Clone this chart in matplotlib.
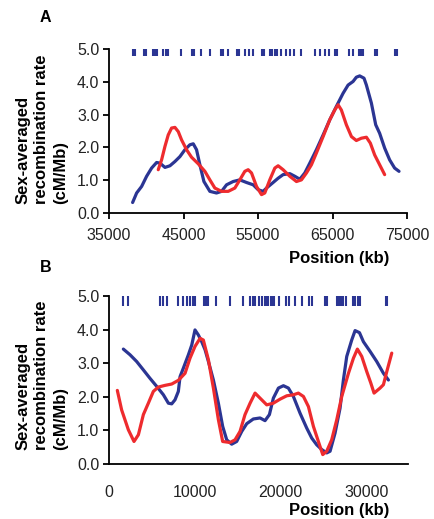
import numpy as np
import matplotlib
matplotlib.use("Agg")
import matplotlib.pyplot as plt

plt.rcParams['font.family'] = ['Liberation Sans', 'DejaVu Sans']

BLUE = "#2b3593"
RED = "#ee2b2e"

# ---------------- panel A ----------------
a_blue_x = [38170, 38710, 39380, 40050, 40720, 41390, 41840, 42510, 43180, 43850,
            44520, 45190, 45860, 46310, 46750, 47200, 47740, 48540, 49430, 50110,
            50780, 51670, 52560, 53460, 54350, 55020, 55690, 56140, 57030, 57700,
            58370, 59270, 59940, 60610, 61280, 61950, 62840, 63740, 64630, 65520,
            66420, 67090, 67760, 68200, 68650, 69230, 69550, 70220, 70800, 71330,
            72000, 72670, 73340, 73930]
a_blue_y = [0.32, 0.61, 0.81, 1.12, 1.37, 1.54, 1.52, 1.39, 1.44, 1.57,
            1.72, 1.93, 2.08, 2.11, 1.93, 1.47, 0.96, 0.66, 0.61, 0.66,
            0.86, 0.96, 1.01, 0.93, 0.86, 0.71, 0.66, 0.76, 0.93, 1.06,
            1.17, 1.20, 1.12, 1.03, 1.22, 1.52, 1.93, 2.38, 2.84, 3.25,
            3.65, 3.90, 4.01, 4.14, 4.18, 4.11, 3.90, 3.35, 2.69, 2.43,
            1.98, 1.62, 1.37, 1.27]

a_red_x = [41610, 42060, 42510, 42950, 43400, 43850, 44300, 44740, 45410, 46080,
           46980, 47870, 48540, 49210, 50110, 51000, 51890, 52560, 53230, 53680,
           54130, 54800, 55470, 55910, 56580, 57260, 57700, 58370, 59270, 60160,
           60830, 61500, 62170, 62840, 63740, 64630, 65300, 65750, 66190, 66860,
           67540, 68200, 68870, 69550, 70080, 70660, 71330, 72000]
a_red_y = [1.32, 1.62, 2.03, 2.38, 2.59, 2.61, 2.48, 2.23, 1.93, 1.70,
           1.50, 1.27, 1.01, 0.76, 0.66, 0.66, 0.76, 1.01, 1.27, 1.32,
           1.22, 0.81, 0.56, 0.61, 1.01, 1.37, 1.44, 1.32, 1.12, 0.96,
           1.01, 1.22, 1.47, 1.83, 2.33, 2.84, 3.14, 3.30, 3.14, 2.69,
           2.33, 2.21, 2.28, 2.31, 2.13, 1.77, 1.47, 1.17]

a_markers = [38260, 38440, 39690, 39960, 40850, 41170, 41480, 42280, 42600, 42950,
             44650, 46080, 46400, 47290, 48540, 50060, 50330, 50910, 52210, 52470,
             53230, 53810, 54350, 55470, 55830, 56670, 56940, 57260, 57570, 58150,
             58730, 59270, 59800, 60830, 62710, 63290, 63960, 64540, 65300, 65610,
             67220, 67760, 68520, 68870, 69100, 70750, 71020, 73430, 73700]

# ---------------- panel B ----------------
b_blue_x = [1670, 2450, 3220, 4000, 4770, 5550, 6330, 6910, 7300, 7680,
            8070, 8270, 8650, 9240, 9630, 10010, 10400, 10790, 11180, 11570,
            12150, 12730, 13230, 13700, 14280, 14860, 15450, 16030, 16800, 17580,
            18160, 18670, 19130, 19720, 20300, 20880, 21460, 22240, 23010, 23600,
            24180, 24760, 25340, 25730, 26310, 26890, 27280, 27670, 28250, 28640,
            29150, 29610, 30390, 31160, 31940, 32520]
b_blue_y = [3.42, 3.25, 3.05, 2.80, 2.55, 2.31, 2.06, 1.81, 1.79, 1.91,
            2.16, 2.60, 2.85, 3.25, 3.54, 3.99, 3.84, 3.64, 3.40, 3.05,
            2.50, 1.81, 1.12, 0.72, 0.59, 0.67, 0.97, 1.20, 1.34, 1.37,
            1.29, 1.47, 1.96, 2.26, 2.33, 2.26, 2.01, 1.51, 1.07, 0.77,
            0.57, 0.43, 0.33, 0.38, 0.92, 1.66, 2.50, 3.20, 3.69, 3.97,
            3.91, 3.64, 3.35, 3.05, 2.70, 2.50]

b_red_x = [970, 1470, 2250, 2910, 3420, 4000, 4580, 5160, 5740, 6520,
           7300, 8070, 8850, 9430, 10010, 10600, 10980, 11570, 12150, 12730,
           13230, 14090, 14670, 15250, 15830, 16420, 17000, 17580, 18360, 19130,
           19910, 20690, 21460, 22040, 22630, 23210, 23790, 24370, 24880, 25340,
           25920, 26510, 27090, 27870, 28450, 28910, 29420, 30000, 30470, 30850,
           31550, 31940, 32330, 32910]
b_red_y = [2.19, 1.61, 1.02, 0.67, 0.87, 1.47, 1.81, 2.16, 2.29, 2.34,
           2.38, 2.49, 2.70, 3.15, 3.50, 3.74, 3.69, 3.10, 2.26, 1.32,
           0.67, 0.64, 0.72, 0.97, 1.47, 1.81, 2.11, 1.96, 1.76, 1.81,
           1.93, 2.03, 2.06, 2.11, 2.01, 1.71, 1.12, 0.67, 0.28, 0.38,
           0.72, 1.32, 2.01, 2.70, 3.15, 3.42, 3.20, 2.75, 2.41, 2.11,
           2.26, 2.36, 2.75, 3.30]

b_markers = [1670, 2250, 5940, 6330, 6710, 8070, 8580, 9040, 9430, 9820,
             10010, 11060, 11290, 11570, 12460, 14090, 15560, 16420, 16730, 17000,
             17500, 17780, 18160, 18360, 18550, 18820, 19060, 19210, 19830, 20610,
             21000, 21660, 22430, 23330, 23600, 25150, 25340, 26510, 26820, 26970,
             27280, 27590, 28370, 28640, 29030, 29220, 32250, 32410]

W, H = 434, 519
TICK_FS = 11.5
LABEL_FS = 12
fig = plt.figure(figsize=(W / 100, H / 100), dpi=100)


def px_axes(left, top, right, bottom):
    return fig.add_axes([left / W, 1 - bottom / H, (right - left) / W, (bottom - top) / H])


def style(ax):
    for s in ['top', 'right']:
        ax.spines[s].set_visible(False)
    for s in ['left', 'bottom']:
        ax.spines[s].set_linewidth(1.3)
    ax.tick_params(direction='out', length=4, width=1.3, labelsize=TICK_FS,
                   labelcolor='#222222', pad=3)
    ax.set_yticks([0, 1, 2, 3, 4, 5])
    ax.set_yticklabels([f"{v:.1f}" for v in range(6)])
    ax.set_ylim(0, 5.0)


def ylabel(y_bottom):
    fig.text(42 / W, 1 - y_bottom / H, "Sex-averaged\nrecombination rate\n(cM/Mb)",
             rotation=90, ha='center', va='bottom', multialignment='left',
             fontsize=LABEL_FS, fontweight='bold', linespacing=1.32)


# panel A
axA = px_axes(109, 49, 407, 213)
style(axA)
axA.plot(a_blue_x, a_blue_y, color=BLUE, lw=2.3, solid_capstyle='round')
axA.plot(a_red_x, a_red_y, color=RED, lw=2.3, solid_capstyle='round')
axA.plot(a_markers, [4.98] * len(a_markers), ls='none', marker='|',
         ms=8, mew=1.5, color=BLUE)
axA.set_xlim(35000, 75000)
axA.set_xticks([35000, 45000, 55000, 65000, 75000])
axA.set_xticklabels(["35000", "45000", "55000", "65000", "75000"])
axA.xaxis.set_tick_params(pad=7)
fig.text(40 / W, 1 - 18 / H, "A", fontsize=11.5, fontweight='bold', va='center')
fig.text(389 / W, 1 - 259 / H, "Position (kb)", fontsize=LABEL_FS, fontweight='bold',
         ha='right', va='center')
ylabel(204)

# panel B
axB = px_axes(109, 296, 408, 464)
style(axB)
axB.plot(b_blue_x, b_blue_y, color=BLUE, lw=2.3, solid_capstyle='round')
axB.plot(b_red_x, b_red_y, color=RED, lw=2.3, solid_capstyle='round')
axB.plot(b_markers, [4.87] * len(b_markers), ls='none', marker='|',
         ms=8, mew=1.5, color=BLUE)
axB.set_xlim(0, 34800)
axB.set_xticks([0, 10000, 20000, 30000])
axB.set_xticklabels(["0", "10000", "20000", "30000"])
axB.xaxis.set_tick_params(length=0, pad=15)
fig.text(40 / W, 1 - 268 / H, "B", fontsize=11.5, fontweight='bold', va='center')
fig.text(389 / W, 1 - 510 / H, "Position (kb)", fontsize=LABEL_FS, fontweight='bold',
         ha='right', va='center')
ylabel(450)

fig.savefig("out.png", dpi=100)
